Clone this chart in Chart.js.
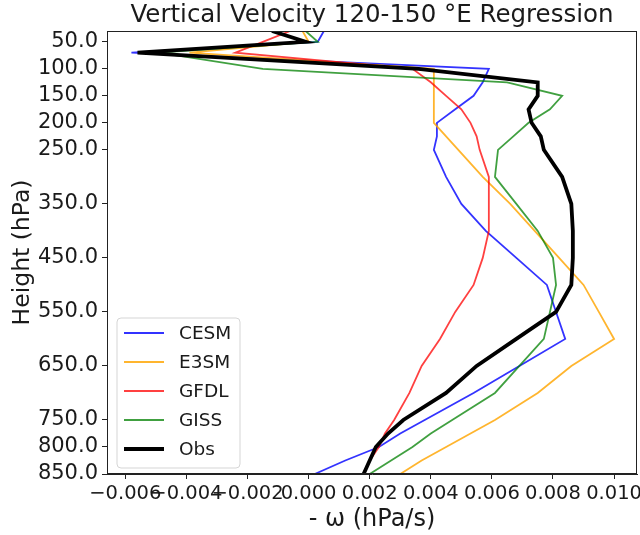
<!DOCTYPE html>
<html>
<head>
<meta charset="utf-8">
<script src="https://cdn.jsdelivr.net/npm/chart.js@4.4.0/dist/chart.umd.min.js"></script>
<style>
  html, body { margin: 0; padding: 0; background: #fff; }
  #wrap { width: 640px; height: 535px; }
</style>
</head>
<body>
<div id="wrap"><canvas id="line-chart" width="640" height="535"></canvas></div>
<script>
// pressure levels (hPa) and regressed -omega (hPa/s) per dataset
const levels = [30, 50, 70, 100, 125, 150, 175, 200, 225, 250, 300, 350, 400, 450, 500, 550, 600, 650, 700, 750, 775, 800, 825, 850];
const cesm = [0.0005, 0.0003, -0.0058, 0.0059, 0.0057, 0.0054, 0.0048, 0.0042, 0.0042, 0.0041, 0.0045, 0.0050, 0.0058, 0.0068, 0.0078, 0.0081, 0.0084, 0.0069, 0.0054, 0.0038, 0.0030, 0.0023, 0.0012, 0.0002];
const e3sm = [-0.0002, 0.0000, -0.0039, 0.0041, 0.0041, 0.0041, 0.0041, 0.0041, 0.0045, 0.0049, 0.0057, 0.0066, 0.0074, 0.0082, 0.0090, 0.0095, 0.0100, 0.0086, 0.0075, 0.0061, 0.0053, 0.0045, 0.0037, 0.0030];
const gfdl = [-0.0006, -0.0015, -0.0024, 0.0034, 0.0040, 0.0045, 0.0050, 0.0053, 0.0055, 0.0056, 0.0059, 0.0059, 0.0059, 0.0057, 0.0054, 0.0048, 0.0043, 0.0037, 0.0033, 0.0028, 0.0025, 0.0023, 0.0020, 0.0018];
const giss = [-0.0001, 0.0003, -0.0049, -0.0015, 0.0065, 0.0083, 0.0079, 0.0072, 0.0067, 0.0062, 0.0061, 0.0068, 0.0075, 0.0080, 0.0081, 0.0079, 0.0077, 0.0069, 0.0061, 0.0047, 0.0040, 0.0034, 0.0027, 0.0020];
const obs = [-0.0012, -0.0001, -0.0056, 0.0036, 0.0075, 0.0075, 0.0072, 0.0073, 0.0076, 0.0077, 0.0083, 0.0086, 0.00865, 0.00865, 0.0086, 0.0081, 0.0068, 0.0055, 0.0045, 0.0031, 0.0026, 0.0022, 0.0020, 0.0018];

const xTicks = [-0.006, -0.004, -0.002, 0, 0.002, 0.004, 0.006, 0.008, 0.010];
const yTicks = [50, 100, 150, 200, 250, 350, 450, 550, 650, 750, 800, 850];

function pts(vals) {
    return vals.map((v, i) => ({ x: v, y: levels[i] }));
}

const FONT = "'DejaVu Sans', sans-serif";
const TXT = '#1a1a1a';

// matplotlib-style box around the axes + legend in lower left
const framePlugin = {
    id: 'frame',
    afterDatasetsDraw(chart) {
        const a = chart.chartArea, ctx = chart.ctx;
        ctx.save();
        ctx.strokeStyle = '#222';
        ctx.lineWidth = 1;
        ctx.strokeRect(a.left + 0.5, a.top + 0.5, a.right - a.left - 1, a.bottom - a.top - 1);
        ctx.restore();
    },
    afterDraw(chart) {
        const a = chart.chartArea, ctx = chart.ctx;
        const x0 = a.left + 10, w = 123, h = 150;
        const y0 = a.bottom - 6 - h;
        ctx.save();
        ctx.beginPath();
        ctx.roundRect(x0, y0, w, h, 4);
        ctx.fillStyle = 'rgba(255,255,255,0.85)';
        ctx.fill();
        ctx.strokeStyle = '#d5d5d5';
        ctx.lineWidth = 1;
        ctx.stroke();
        ctx.font = '18.5px ' + FONT;
        ctx.textBaseline = 'middle';
        chart.data.datasets.forEach((ds, i) => {
            const yy = y0 + 15 + i * 29;
            ctx.beginPath();
            ctx.moveTo(x0 + 7, yy);
            ctx.lineTo(x0 + 47, yy);
            ctx.strokeStyle = ds.borderColor;
            ctx.lineWidth = ds.borderWidth;
            ctx.stroke();
            ctx.fillStyle = TXT;
            ctx.fillText(ds.label, x0 + 62, yy + 1);
        });
        ctx.restore();
    }
};

function line(label, vals, color, width, order) {
    return {
        label: label,
        data: pts(vals),
        borderColor: color,
        borderWidth: width,
        pointRadius: 0,
        tension: 0,
        fill: false,
        order: order
    };
}

new Chart(document.getElementById('line-chart'), {
    type: 'line',
    data: {
        datasets: [
            line('CESM', cesm, 'rgba(0,0,255,0.8)', 1.8, 5),
            line('E3SM', e3sm, 'rgba(255,165,0,0.82)', 1.8, 4),
            line('GFDL', gfdl, 'rgba(255,0,0,0.75)', 1.8, 3),
            line('GISS', giss, 'rgba(0,128,0,0.75)', 1.8, 2),
            line('Obs', obs, '#000000', 3.8, 1)
        ]
    },
    options: {
        responsive: false,
        devicePixelRatio: 1,
        animation: false,
        layout: { padding: { left: 0, right: 3, top: 0, bottom: 0 } },
        plugins: {
            legend: { display: false },
            tooltip: { enabled: false },
            title: {
                display: true,
                fullSize: false,
                text: 'Vertical Velocity 120-150 °E Regression',
                color: TXT,
                font: { family: FONT, size: 24.5, weight: 'normal', lineHeight: 1 },
                padding: { top: 3, bottom: 3.5 }
            }
        },
        scales: {
            x: {
                type: 'linear',
                min: -0.0066,
                max: 0.01075,
                afterBuildTicks: s => { s.ticks = xTicks.map(v => ({ value: v })); },
                afterFit: s => { s.height = 61; s.paddingLeft = 0; s.paddingRight = 0; },
                ticks: {
                    autoSkip: false,
                    maxRotation: 0,
                    padding: 3,
                    color: TXT,
                    font: { family: FONT, size: 19.5 },
                    callback: v => (v < 0 ? '\u2212' : '') + Math.abs(v).toFixed(3)
                },
                grid: { drawOnChartArea: false, tickLength: 5, color: '#222' },
                border: { color: '#222' },
                title: {
                    display: true,
                    text: '- \u03c9 (hPa/s)',
                    color: TXT,
                    font: { family: FONT, size: 24 },
                    padding: { top: 0, bottom: 1 }
                }
            },
            y: {
                type: 'linear',
                reverse: true,
                min: 30,
                max: 850,
                afterBuildTicks: s => { s.ticks = yTicks.map(v => ({ value: v })); },
                afterFit: s => { s.width = 107; },
                ticks: {
                    autoSkip: false,
                    padding: 4,
                    color: TXT,
                    font: { family: FONT, size: 21 },
                    callback: v => Number(v).toFixed(1)
                },
                grid: { drawOnChartArea: false, tickLength: 5, color: '#222' },
                border: { color: '#222' },
                title: {
                    display: true,
                    text: 'Height (hPa)',
                    color: TXT,
                    font: { family: FONT, size: 23.5 },
                    padding: { top: 9, bottom: 0 }
                }
            }
        }
    },
    plugins: [framePlugin]
});
</script>
</body>
</html>
